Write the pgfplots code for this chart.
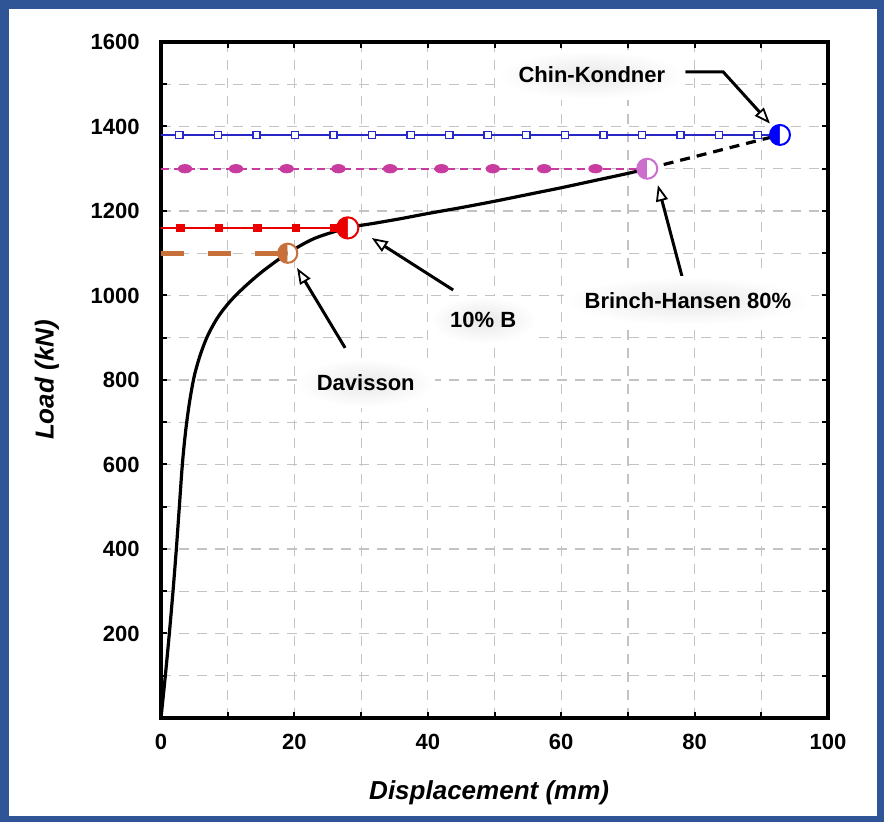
\documentclass[border=0pt]{standalone}
\usepackage{fontspec}
\setmainfont{Liberation Sans}
\usepackage{pgfplots}
\pgfplotsset{compat=1.18}
\usetikzlibrary{arrows.meta}

\definecolor{frameblue}{RGB}{47,85,151}
\definecolor{davcol}{RGB}{199,112,58}
\definecolor{tenb}{RGB}{235,0,0}
\definecolor{bhline}{RGB}{200,60,160}
\definecolor{bhmark}{RGB}{204,110,204}
\definecolor{chinline}{RGB}{40,40,200}
\definecolor{chinmark}{RGB}{0,0,255}
\definecolor{gridgray}{RGB}{195,195,195}

% circle with the left half filled, the right half white
\pgfdeclareplotmark{halfleft}{%
  \pgfpathmoveto{\pgfqpoint{0pt}{\pgfplotmarksize}}%
  \pgfpatharc{90}{270}{\pgfplotmarksize}%
  \pgfpathclose
  \pgfusepathqfill
  \begin{pgfscope}%
    \pgfsetfillcolor{white}%
    \pgfpathmoveto{\pgfqpoint{0pt}{\pgfplotmarksize}}%
    \pgfpatharc{90}{-90}{\pgfplotmarksize}%
    \pgfpathclose
    \pgfusepathqfill
  \end{pgfscope}%
  \pgfpathcircle{\pgfpointorigin}{\pgfplotmarksize}%
  \pgfusepathqstroke
}

\begin{document}
\begin{tikzpicture}[x=1pt,y=1pt,
  lbl/.style={font=\bfseries\fontsize{11}{13}\selectfont,
    inner color=gray!18, outer color=white, inner xsep=10pt, inner ysep=8pt},
  arr/.style={black, line width=1.5pt,
    -{Triangle[length=8pt, width=6pt, line width=0.9pt, fill=white]}}]
\useasboundingbox (0,0) rectangle (442,411);
\fill[frameblue] (0,0) rectangle (442,411);
\fill[white] (4.5,3) rectangle (438.5,406.5);
\begin{axis}[
  at={(80.5pt,52pt)}, anchor=south west,
  scale only axis, width=333.5pt, height=338pt,
  xmin=0, xmax=100, ymin=0, ymax=1600,
  xtick={0,20,...,100}, minor xtick={10,30,...,90},
  ytick={200,400,...,1600}, minor ytick={100,300,...,1500},
  grid=both,
  grid style={gridgray, dash pattern=on 5pt off 4pt, line width=0.6pt},
  minor grid style={gridgray, dash pattern=on 5pt off 4pt, line width=0.6pt},
  axis line style={line width=1.6pt},
  tick align=inside, tick pos=both,
  major tick length=3pt, minor tick length=3pt,
  tick style={black, line width=1pt},
  /pgf/number format/1000 sep={},
  /pgf/number format/assume math mode=true,
  ticklabel style={font=\bfseries\fontsize{11}{13}\selectfont},
  xticklabel style={anchor=north, inner sep=0pt, yshift=-8pt},
  yticklabel style={anchor=east, inner sep=0pt, xshift=-10.5pt},
  xlabel={Displacement (mm)},
  ylabel={Load (kN)},
  every axis x label/.style={at={(axis description cs:0.492,-0.111)}, anchor=center,
    font=\bfseries\itshape\fontsize{13}{15}\selectfont},
  every axis y label/.style={at={(axis description cs:-0.171,0.5)}, rotate=90, anchor=center,
    font=\bfseries\itshape\fontsize{13}{15}\selectfont},
]

% Davisson level
\addplot[davcol, line width=2.5pt, dash pattern=on 11.5pt off 12pt]
  coordinates {(0,1100) (19,1100)};

% 10% B level
\addplot[tenb, line width=0.7pt] coordinates {(0,1160) (28,1160)};
\addplot[only marks, mark=square*, mark size=1.9pt, tenb]
  coordinates {(2.95,1160) (8.7,1160) (14.45,1160) (20.25,1160) (25.95,1160)};

% Brinch-Hansen 80% level
\addplot[bhline, line width=0.8pt, dash pattern=on 4pt off 2.5pt]
  coordinates {(0,1300) (72.9,1300)};
\addplot[only marks, mark=*, mark size=2.1pt, bhline, mark options={xscale=1.6}]
  coordinates {(3.6,1300) (11.25,1300) (18.85,1300) (26.6,1300) (34.35,1300)
               (42.05,1300) (49.75,1300) (57.45,1300) (65.15,1300)};

% Chin-Kondner level
\addplot[chinline, line width=0.7pt] coordinates {(0,1380) (92.8,1380)};
\addplot[only marks, mark=square*, mark size=1.8pt, chinline,
  mark options={fill=white, line width=0.7pt}]
  coordinates {(2.75,1380) (8.53,1380) (14.31,1380) (20.09,1380) (25.87,1380)
               (31.65,1380) (37.43,1380) (43.21,1380) (48.99,1380) (54.77,1380)
               (60.55,1380) (66.33,1380) (72.11,1380) (77.89,1380) (83.67,1380)
               (89.45,1380)};

% measured load-displacement curve
\addplot[black, line width=1.6pt, smooth]
  coordinates {(0,0) (0.65,100) (1.25,200) (1.8,300) (2.3,400) (2.75,500)
               (3.2,600) (3.7,680) (4.3,750) (5.0,810) (5.9,860) (7.0,905)
               (8.5,948) (10.3,985) (12.5,1020) (15.3,1058) (19,1100)
               (23,1135) (28,1160) (32,1171) (36,1182) (40,1194) (45,1208)
               (50,1223) (55,1239) (60,1255) (65,1272) (70,1289) (72.9,1300)};

% hyperbolic extension
\addplot[black, line width=1.6pt, dash pattern=on 5pt off 3.5pt]
  coordinates {(72.9,1300) (92.8,1380)};

% failure loads
\addplot[only marks, mark=halfleft, mark size=4.8pt,
  mark options={draw=davcol, fill=davcol, line width=1pt}] coordinates {(19,1100)};
\addplot[only marks, mark=halfleft, mark size=5.3pt,
  mark options={draw=tenb, fill=tenb, line width=1pt}] coordinates {(28,1160)};
\addplot[only marks, mark=halfleft, mark size=5pt,
  mark options={draw=bhmark, fill=bhmark, line width=1pt}] coordinates {(72.9,1300)};
\addplot[only marks, mark=halfleft, mark size=5pt,
  mark options={draw=chinmark, fill=chinmark, line width=1pt}] coordinates {(92.8,1380)};

% annotations
\draw[arr] (axis cs:78.6,1529) -- (axis cs:84.3,1529) -- (axis cs:91.3,1407);
\draw[arr] (axis cs:78.1,1046) -- (axis cs:74.5,1261);
\draw[arr] (axis cs:43.8,1013) -- (axis cs:31.6,1136);
\draw[arr] (axis cs:27.6,876) -- (axis cs:20.4,1065);

\node[lbl] at (axis cs:64.6,1522) {Chin-Kondner};
\node[lbl] at (axis cs:79.0,987) {Brinch-Hansen 80\%};
\node[lbl] at (axis cs:48.3,942) {10\% B};
\node[lbl] at (axis cs:30.7,793) {Davisson};
\end{axis}
\end{tikzpicture}
\end{document}
